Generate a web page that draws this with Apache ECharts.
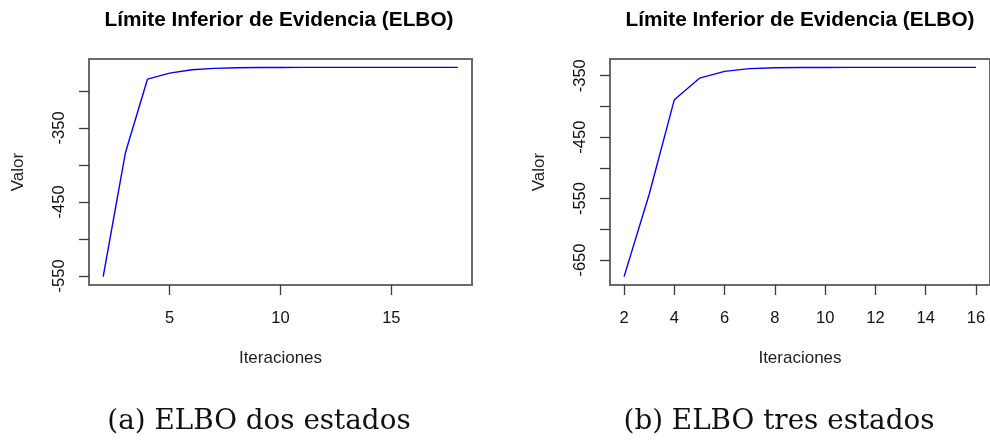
<!DOCTYPE html>
<html>
<head>
<meta charset="utf-8">
<script src="https://cdn.jsdelivr.net/npm/echarts@6/dist/echarts.min.js"></script>
<style>html,body{margin:0;padding:0;background:#fff;}#c{width:990px;height:441px;}</style>
</head>
<body>
<div id="c"></div>
<script>
// ---- data ----
const iterA = [2,3,4,5,6,7,8,9,10,11,12,13,14,15,16,17,18];
const elboA = [-551,-384,-284,-276,-271.5,-269.5,-268.7,-268.4,-268.3,-268.2,-268.2,-268.2,-268.2,-268.2,-268.2,-268.2,-268.2];
const iterB = [2,3,4,5,6,7,8,9,10,11,12,13,14,15,16];
const elboB = [-677,-543,-389,-354,-343,-338.5,-337,-336.6,-336.5,-336.4,-336.4,-336.4,-336.4,-336.4,-336.4];

const xTicksA = [5,10,15];
const yTicksA = [-550,-500,-450,-400,-350,-300];
const yLabelsA = [-550,-450,-350];
const xTicksB = [2,4,6,8,10,12,14,16];
const yTicksB = [-650,-600,-550,-500,-450,-400,-350];
const yLabelsB = [-650,-550,-450,-350];

const titleText = 'Límite Inferior de Evidencia (ELBO)';
const xName = 'Iteraciones';
const yName = 'Valor';
const captionA = '(a) ELBO dos estados';
const captionB = '(b) ELBO tres estados';

// R-style 4% range extension
function ext(arr){ const mn=Math.min(...arr), mx=Math.max(...arr), d=(mx-mn)*0.04; return [mn-d, mx+d]; }

const sans = 'Liberation Sans, Arial, sans-serif';
const tickStyle = {show:true, length:10, lineStyle:{color:'#3a3a3a', width:1.3}};

function xAxis(gi, iters, ticks){
  const r = ext(iters);
  return {
    type:'value', gridIndex:gi, min:r[0], max:r[1],
    axisLine:{show:false}, splitLine:{show:false},
    axisTick:Object.assign({customValues:ticks}, tickStyle),
    axisLabel:{customValues:ticks, margin:25, fontSize:16.5, color:'#111', fontFamily:sans, showMinLabel:true, showMaxLabel:true},
    name:xName, nameLocation:'middle', nameGap:65,
    nameTextStyle:{fontSize:17, color:'#222', fontFamily:sans}
  };
}
function yAxis(gi, vals, ticks, labels){
  const r = ext(vals);
  return {
    type:'value', gridIndex:gi, min:r[0], max:r[1],
    axisLine:{show:false}, splitLine:{show:false},
    axisTick:Object.assign({customValues:ticks}, tickStyle),
    axisLabel:{customValues:labels, rotate:90, margin:21, fontSize:16.5, color:'#111', fontFamily:sans, showMinLabel:true, showMaxLabel:true},
    name:yName, nameLocation:'middle', nameGap:62,
    nameTextStyle:{fontSize:17, color:'#222', fontFamily:sans}
  };
}

const chart = echarts.init(document.getElementById('c'), null, {renderer:'canvas'});
chart.setOption({
  animation:false,
  backgroundColor:'#fff',
  title:[
    {text:titleText, left:274, top:5, textAlign:'center', textStyle:{fontSize:20.8, fontWeight:'bold', color:'#000', fontFamily:sans}},
    {text:titleText, left:795, top:5, textAlign:'center', textStyle:{fontSize:20.8, fontWeight:'bold', color:'#000', fontFamily:sans}}
  ],
  grid:[
    {left:89, top:59, width:383, height:226, show:true, borderColor:'#6a6a6a', borderWidth:2, containLabel:false},
    {left:610, top:59, width:384, height:226, show:true, borderColor:'#6a6a6a', borderWidth:2, containLabel:false}
  ],
  xAxis:[xAxis(0, iterA, xTicksA), xAxis(1, iterB, xTicksB)],
  yAxis:[yAxis(0, elboA, yTicksA, yLabelsA), yAxis(1, elboB, yTicksB, yLabelsB)],
  series:[
    {type:'line', xAxisIndex:0, yAxisIndex:0, data:iterA.map((x,i)=>[x,elboA[i]]), showSymbol:false, lineStyle:{color:'#0000ff', width:1.4}},
    {type:'line', xAxisIndex:1, yAxisIndex:1, data:iterB.map((x,i)=>[x,elboB[i]]), showSymbol:false, lineStyle:{color:'#0000ff', width:1.4}}
  ],
  graphic:[
    {type:'text', x:259, y:422, style:{text:captionA, font:'27.8px "DejaVu Serif", serif', fill:'#111', textAlign:'center', textVerticalAlign:'middle'}},
    {type:'text', x:779, y:422, style:{text:captionB, font:'27.8px "DejaVu Serif", serif', fill:'#111', textAlign:'center', textVerticalAlign:'middle'}}
  ]
});
</script>
</body>
</html>
